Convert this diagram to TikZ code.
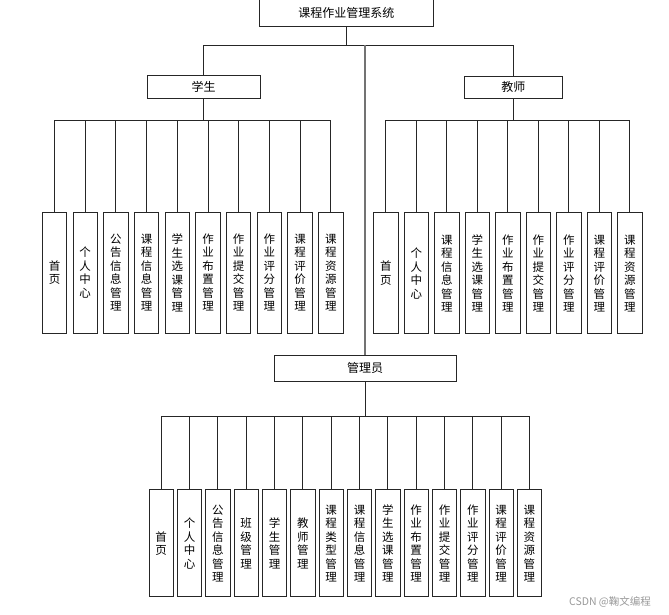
\documentclass[tikz,border=0pt]{standalone}
\usepackage{fontspec}
\setmainfont{Noto Sans CJK SC}
\usetikzlibrary{positioning}

\begin{document}
\begin{tikzpicture}[x=1pt, y=-1pt,
    every node/.style={font=\fontsize{11.5}{13.5}\selectfont},
    topbox/.style={draw=black!85, line width=0.9pt, rectangle,
                inner sep=0pt, minimum width=174pt, minimum height=27pt,
                fill=white, font=\fontsize{12}{14}\selectfont},
    rolebox/.style={draw=black!85, line width=0.9pt, rectangle,
                inner sep=0pt, minimum height=22.6pt,
                fill=white, font=\fontsize{12}{14}\selectfont},
    leaf/.style={draw=black!85, line width=0.9pt, rectangle,
                inner sep=0pt, minimum width=24.4pt, minimum height=121pt,
                fill=white, align=center},
    adleaf/.style={leaf, minimum height=107pt},
    link/.style={draw=black!85, line width=0.9pt},
    trunk/.style={draw=black!55, line width=1.2pt},
    wmark/.style={font=\fontsize{10.5}{12}\selectfont, text=black!40}
]
  \useasboundingbox (0,0) rectangle (669,615);

  % --- Root and roles ---
  \node[topbox] (root) at (346.3, 12.5) {课程作业管理系统};
  \node[rolebox, minimum width=113pt] (stu) at (203.5, 87) {学生};
  \node[rolebox, minimum width=98.7pt] (tea) at (513.3, 87.3) {教师};
  \node[rolebox, minimum width=182pt, minimum height=26.7pt] (adm) at (365, 368.3) {管理员};

  % --- Bus levels ---
  \coordinate (rbus) at (0, 45);
  \coordinate (sbus) at (0, 120.5);
  \coordinate (abus) at (0, 416.7);

  % --- Student functions ---
  \foreach \t [count=\i] in {{首\\页},{个\\人\\中\\心},{公\\告\\信\\息\\管\\理},
      {课\\程\\信\\息\\管\\理},{学\\生\\选\\课\\管\\理},{作\\业\\布\\置\\管\\理},
      {作\\业\\提\\交\\管\\理},{作\\业\\评\\分\\管\\理},{课\\程\\评\\价\\管\\理},
      {课\\程\\资\\源\\管\\理}}
    \node[leaf] (s\i) at ({54.5+30.7*(\i-1)}, 272.7) {\t};

  % --- Teacher functions ---
  \foreach \t [count=\i] in {{首\\页},{个\\人\\中\\心},{课\\程\\信\\息\\管\\理},
      {学\\生\\选\\课\\管\\理},{作\\业\\布\\置\\管\\理},{作\\业\\提\\交\\管\\理},
      {作\\业\\评\\分\\管\\理},{课\\程\\评\\价\\管\\理},{课\\程\\资\\源\\管\\理}}
    \node[leaf] (t\i) at ({385.8+30.5*(\i-1)}, 273.3) {\t};

  % --- Admin functions ---
  \foreach \t [count=\i] in {{首\\页},{个\\人\\中\\心},{公\\告\\信\\息\\管\\理},
      {班\\级\\管\\理},{学\\生\\管\\理},{教\\师\\管\\理},{课\\程\\类\\型\\管\\理},
      {课\\程\\信\\息\\管\\理},{学\\生\\选\\课\\管\\理},{作\\业\\布\\置\\管\\理},
      {作\\业\\提\\交\\管\\理},{作\\业\\评\\分\\管\\理},{课\\程\\评\\价\\管\\理},
      {课\\程\\资\\源\\管\\理}}
    \node[adleaf] (a\i) at ({161.2+28.33*(\i-1)}, 543.4) {\t};

  % --- Connectors ---
  \draw[link] (root.south) -- (root.south |- rbus) -| (stu.north);
  \draw[link] (root.south) -- (root.south |- rbus) -| (tea.north);
  \draw[trunk] (adm.north) -- (adm.north |- rbus);

  \foreach \i in {1,...,10}
    \draw[link] (stu.south) -- (stu.south |- sbus) -| (s\i.north);
  \foreach \i in {1,...,9}
    \draw[link] (tea.south) -- (tea.south |- sbus) -| (t\i.north);
  \foreach \i in {1,...,14}
    \draw[link] (adm.south) -- (adm.south |- abus) -| (a\i.north);

  % --- Watermark ---
  \node[wmark] (wm) at (610, 602) {CSDN @鞠文编程};
\end{tikzpicture}
\end{document}
